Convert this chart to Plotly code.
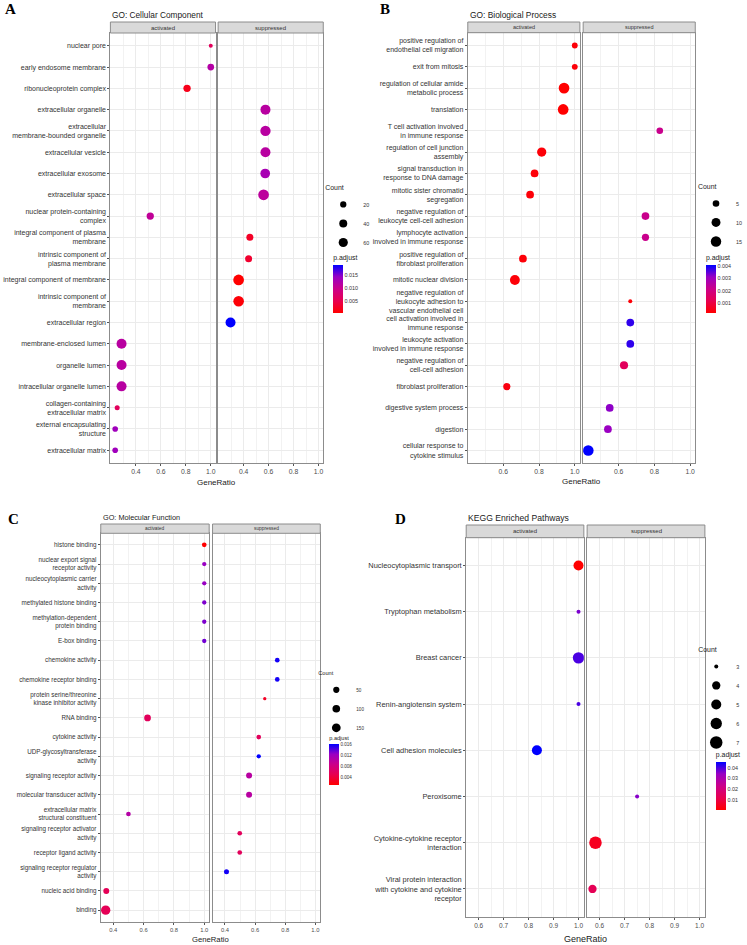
import plotly.graph_objects as go

W, H = 747, 945

# ---------------- A: GO Cellular Component
cc_terms = ["nuclear pore", "early endosome membrane", "ribonucleoprotein complex",
            "extracellular organelle", "extracellular\nmembrane-bounded organelle",
            "extracellular vesicle", "extracellular exosome", "extracellular space",
            "nuclear protein-containing\ncomplex", "integral component of plasma\nmembrane",
            "intrinsic component of\nplasma membrane", "integral component of membrane",
            "intrinsic component of\nmembrane", "extracellular region",
            "membrane-enclosed lumen", "organelle lumen", "intracellular organelle lumen",
            "collagen-containing\nextracellular matrix", "external encapsulating\nstructure",
            "extracellular matrix"]
cc_group = ["activated", "activated", "activated", "suppressed", "suppressed", "suppressed",
            "suppressed", "suppressed", "activated", "suppressed", "suppressed", "suppressed",
            "suppressed", "suppressed", "activated", "activated", "activated", "activated",
            "activated", "activated"]
cc_ratio = [1.0, 1.0, 0.81, 0.575, 0.575, 0.575, 0.573, 0.56, 0.515, 0.45,
            0.44, 0.36, 0.36, 0.295, 0.285, 0.285, 0.285, 0.25, 0.234, 0.234]
cc_count = [10, 24, 31, 78, 85, 78, 72, 95, 31, 27, 27, 95, 92, 78, 78, 78, 78, 12, 15, 15]
cc_padj = [0.0061, 0.0119, 0.0021, 0.0115, 0.0115, 0.0115, 0.0130, 0.0112, 0.0108, 0.0028,
           0.0033, 0.0006, 0.0010, 0.0188, 0.0115, 0.0115, 0.0116, 0.0062, 0.0137, 0.0137]

# ---------------- B: GO Biological Process
bp_terms = ["positive regulation of\nendothelial cell migration", "exit from mitosis",
            "regulation of cellular amide\nmetabolic process", "translation",
            "T cell activation involved\nin immune response", "regulation of cell junction\nassembly",
            "signal transduction in\nresponse to DNA damage", "mitotic sister chromatid\nsegregation",
            "negative regulation of\nleukocyte cell-cell adhesion",
            "lymphocyte activation\ninvolved in immune response",
            "positive regulation of\nfibroblast proliferation", "mitotic nuclear division",
            "negative regulation of\nleukocyte adhesion to\nvascular endothelial cell",
            "cell activation involved in\nimmune response",
            "leukocyte activation\ninvolved in immune response",
            "negative regulation of\ncell-cell adhesion", "fibroblast proliferation",
            "digestive system process", "digestion", "cellular response to\ncytokine stimulus"]
bp_group = ["activated", "activated", "activated", "activated", "suppressed", "activated",
            "activated", "activated", "suppressed", "suppressed", "activated", "activated",
            "suppressed", "suppressed", "suppressed", "suppressed", "activated", "suppressed",
            "suppressed", "suppressed"]
bp_ratio = [1.0, 1.0, 0.94, 0.935, 0.83, 0.815, 0.775, 0.75, 0.75, 0.75,
            0.71, 0.665, 0.665, 0.665, 0.665, 0.63, 0.62, 0.55, 0.54, 0.43]
bp_count = [4, 4, 16, 16, 5, 11, 7, 7, 7, 6, 7, 13, 3, 7, 7, 8, 6, 7, 7, 16]
bp_padj = [0.0003, 0.0003, 0.0002, 0.0002, 0.0022, 0.0003, 0.0003, 0.0003, 0.0022, 0.0022,
           0.0003, 0.0003, 0.0003, 0.0038, 0.0038, 0.0014, 0.0004, 0.0032, 0.0031, 0.0041]

# ---------------- C: GO Molecular Function
mf_terms = ["histone binding", "nuclear export signal\nreceptor activity",
            "nucleocytoplasmic carrier\nactivity", "methylated histone binding",
            "methylation-dependent\nprotein binding", "E-box binding", "chemokine activity",
            "chemokine receptor binding", "protein serine/threonine\nkinase inhibitor activity",
            "RNA binding", "cytokine activity", "UDP-glycosyltransferase\nactivity",
            "signaling receptor activity", "molecular transducer activity",
            "extracellular matrix\nstructural constituent", "signaling receptor activator\nactivity",
            "receptor ligand activity", "signaling receptor regulator\nactivity",
            "nucleic acid binding", "binding"]
mf_group = ["activated", "activated", "activated", "activated", "activated", "activated",
            "suppressed", "suppressed", "suppressed", "activated", "suppressed", "suppressed",
            "suppressed", "suppressed", "activated", "suppressed", "suppressed", "suppressed",
            "activated", "activated"]
mf_ratio = [1.0, 1.0, 1.0, 1.0, 1.0, 1.0, 0.747, 0.747, 0.664, 0.626,
            0.624, 0.624, 0.56, 0.56, 0.50, 0.498, 0.498, 0.41, 0.354, 0.35]
mf_count = [19, 15, 15, 15, 15, 15, 19, 19, 10, 65, 19, 15, 44, 44, 19, 19, 19, 24, 44, 180]
mf_padj = [0.0010, 0.0125, 0.0125, 0.0132, 0.0132, 0.0135, 0.0158, 0.0158, 0.0028, 0.0056,
           0.0056, 0.0163, 0.0102, 0.0102, 0.0105, 0.0056, 0.0056, 0.0158, 0.0053, 0.0053]

# ---------------- D: KEGG
kegg_terms = ["Nucleocytoplasmic transport", "Tryptophan metabolism", "Breast cancer",
              "Renin-angiotensin system", "Cell adhesion molecules", "Peroxisome",
              "Cytokine-cytokine receptor\ninteraction",
              "Viral protein interaction\nwith cytokine and cytokine\nreceptor"]
kegg_group = ["activated", "activated", "activated", "activated", "activated",
              "suppressed", "suppressed", "suppressed"]
kegg_ratio = [1.0, 1.0, 1.0, 1.0, 0.8333, 0.75, 0.5833, 0.5714]
kegg_count = [5, 3, 6, 3, 5, 3, 7, 4]
kegg_padj = [0.0005, 0.0365, 0.0401, 0.0401, 0.0455, 0.0356, 0.0050, 0.0130]

RB = [[0.0, "#FF0000"], [0.25, "#E8004F"], [0.5, "#CC0089"], [0.75, "#9A00C3"], [1.0, "#0000FF"]]
SANS = "Liberation Sans, Arial, sans-serif"
SERIF = "Liberation Serif, Times New Roman, serif"
GRID = "#EBEBEB"
BORDER = "#8C8C8C"


def px(x):
    return x / W


def py(y):
    return 1 - y / H


def dot_size(counts, dmin, dmax, lo, hi):
    return [dmin + (dmax - dmin) * ((c - lo) / (hi - lo)) ** 0.5 for c in counts]


panels = [
    dict(terms=cc_terms, group=cc_group, ratio=cc_ratio, count=cc_count, padj=cc_padj,
         title="GO: Cellular Component", letter="A", breaks=[20, 40, 60],
         cticks=[0.005, 0.010, 0.015], cfmt="{:.3f}",
         major=[0.4, 0.6, 0.8, 1.0], minor=[0.3, 0.5, 0.7, 0.9],
         act=(111, 216.7), sup=(219.3, 325), top=33, bottom=463, strip=11,
         title_xy=(111, 15), letter_xy=(3, 9), xlab_y=483, leg_xy=(325, 181),
         cbar=(335, 252, 313), dsize=(4, 10.7),
         fs=dict(y=7, x=6.8, title=8.3, strip=6, xlab=8, leg=5.4, legt=6.9)),
    dict(terms=bp_terms, group=bp_group, ratio=bp_ratio, count=bp_count, padj=bp_padj,
         title="GO: Biological Process", letter="B", breaks=[5, 10, 15],
         cticks=[0.001, 0.002, 0.003, 0.004], cfmt="{:.3f}",
         major=[0.6, 0.8, 1.0], minor=[0.5, 0.7, 0.9],
         act=(470.3, 583), sup=(586.3, 699), top=32.7, bottom=463.3, strip=10.7,
         title_xy=(470.3, 15), letter_xy=(380, 9), xlab_y=481, leg_xy=(700, 180),
         cbar=(709.7, 252, 313), dsize=(4, 10.7),
         fs=dict(y=7.0, x=6.8, title=8.4, strip=5.5, xlab=8, leg=5.4, legt=6.9)),
    dict(terms=mf_terms, group=mf_group, ratio=mf_ratio, count=mf_count, padj=mf_padj,
         title="GO: Molecular Function", letter="C", breaks=[50, 100, 150],
         cticks=[0.004, 0.008, 0.012, 0.016], cfmt="{:.3f}",
         major=[0.4, 0.6, 0.8, 1.0], minor=[0.5, 0.7, 0.9],
         act=(101.3, 210.3), sup=(213.7, 322), top=533.3, bottom=921.7, strip=9.3,
         title_xy=(102, 517.7), letter_xy=(6, 518.5), xlab_y=939.3, leg_xy=(318, 668),
         cbar=(331, 733, 785), dsize=(3.3, 9.3),
         fs=dict(y=6.3, x=5.8, title=7.3, strip=4.8, xlab=7.7, leg=4.6, legt=5.6)),
    dict(terms=kegg_terms, group=kegg_group, ratio=kegg_ratio, count=kegg_count, padj=kegg_padj,
         title="KEGG Enriched Pathways", letter="D", breaks=[3, 4, 5, 6, 7],
         cticks=[0.01, 0.02, 0.03, 0.04], cfmt="{:.2f}",
         major=[0.6, 0.7, 0.8, 0.9, 1.0], minor=[0.65, 0.75, 0.85, 0.95],
         act=(468.7, 587), sup=(590.3, 708.7), top=537.7, bottom=916.7, strip=12.7,
         title_xy=(468.7, 517.7), letter_xy=(395, 519), xlab_y=938.7, leg_xy=(700, 643),
         cbar=(719.7, 749, 810), dsize=(4, 12.5),
         fs=dict(y=7.45, x=6.5, title=8.6, strip=6, xlab=9, leg=5.4, legt=6.9)),
]

fig = go.Figure()
layout = dict(width=W, height=H, margin=dict(l=0, r=0, t=0, b=0),
              paper_bgcolor="white", plot_bgcolor="white", hovermode=False,
              font=dict(family=SANS, color="#1A1A1A"))
shapes, annotations = [], []

for k, p in enumerate(panels):
    fs = p["fs"]
    ca = "coloraxis" if k == 0 else f"coloraxis{k + 1}"
    leg = "legend" if k == 0 else f"legend{k + 1}"
    lo, hi = min(p["count"]), max(p["count"])
    sizes = dot_size(p["count"], p["dsize"][0], p["dsize"][1], lo, hi)
    labels = [t.replace("\n", "<br>") for t in p["terms"]]
    n = len(labels)
    rmin, rmax = min(p["ratio"]), max(p["ratio"])
    span = rmax - rmin
    xr = [rmin - 0.05 * span, rmax + 0.05 * span]
    ph = p["bottom"] - p["top"]

    for j, grp in enumerate(["activated", "suppressed"]):
        num = 2 * k + j + 1
        xid = "x" if num == 1 else f"x{num}"
        yid = "y" if num == 1 else f"y{num}"
        dom = p["act"] if j == 0 else p["sup"]
        idx = [i for i, g in enumerate(p["group"]) if g == grp]
        fig.add_trace(go.Scatter(
            x=[p["ratio"][i] for i in idx], y=[labels[i] for i in idx], mode="markers",
            marker=dict(size=[sizes[i] for i in idx], color=[p["padj"][i] for i in idx],
                        coloraxis=ca, line=dict(width=0), opacity=1),
            xaxis=xid, yaxis=yid, showlegend=False))

        layout["xaxis" if num == 1 else f"xaxis{num}"] = dict(
            domain=[px(dom[0]), px(dom[1])], anchor=yid, range=xr,
            tickvals=p["major"], ticktext=[f"{v:.1f}" for v in p["major"]],
            minor=dict(tickvals=p["minor"], showgrid=True, gridcolor="#F2F2F2", gridwidth=1, ticks=""),
            showgrid=True, gridcolor=GRID, gridwidth=1, zeroline=False,
            showline=True, mirror=True, linecolor=BORDER, linewidth=1,
            ticks="outside", ticklen=2, tickcolor="#555555",
            tickfont=dict(size=fs["x"], color="#4D4D4D"), fixedrange=True)
        layout["yaxis" if num == 1 else f"yaxis{num}"] = dict(
            domain=[py(p["bottom"]), py(p["top"])], anchor=xid, type="category",
            categoryorder="array", categoryarray=labels, range=[n - 0.4, -0.6],
            showgrid=True, gridcolor=GRID, gridwidth=1, zeroline=False,
            showline=True, mirror=True, linecolor=BORDER, linewidth=1,
            showticklabels=(j == 0), ticks="outside" if j == 0 else "",
            ticklen=2, tickcolor="#555555",
            tickfont=dict(size=fs["y"], color="#333333"), fixedrange=True)

        # facet strip
        shapes.append(dict(type="rect", xref=f"{xid} domain", yref=f"{yid} domain",
                           x0=0, x1=1, y0=1, y1=1 + p["strip"] / ph,
                           fillcolor="#D9D9D9", line=dict(color=BORDER, width=1)))
        annotations.append(dict(text=grp, xref=f"{xid} domain", yref=f"{yid} domain",
                                x=0.5, y=1 + p["strip"] / 2 / ph, showarrow=False,
                                xanchor="center", yanchor="middle",
                                font=dict(size=fs["strip"], color="#333333")))

    # count legend
    for b, d in zip(p["breaks"], dot_size(p["breaks"], p["dsize"][0], p["dsize"][1], lo, hi)):
        fig.add_trace(go.Scatter(x=[None], y=[None], mode="markers", name=str(b),
                                 marker=dict(size=d, color="black"), legend=leg,
                                 xaxis="x" if k == 0 else f"x{2 * k + 1}",
                                 yaxis="y" if k == 0 else f"y{2 * k + 1}"))
    layout[leg] = dict(x=px(p["leg_xy"][0]), y=py(p["leg_xy"][1]), xanchor="left", yanchor="top",
                       title=dict(text="Count", font=dict(size=fs["legt"], color="#1A1A1A")),
                       font=dict(size=fs["leg"], color="#333333"), bgcolor="rgba(0,0,0,0)",
                       borderwidth=0, itemsizing="trace", tracegroupgap=0)

    # p.adjust colour bar
    cx, ctop, cbot = p["cbar"]
    layout[ca] = dict(colorscale=RB, colorbar=dict(
        x=px(cx), xanchor="left", xpad=0, y=py(ctop), yanchor="top", ypad=0,
        len=cbot - ctop, lenmode="pixels", thickness=10, thicknessmode="pixels",
        outlinewidth=0, ticks="",
        title=dict(text="p.adjust", side="top", font=dict(size=fs["legt"], color="#1A1A1A")),
        tickvals=p["cticks"], ticktext=[p["cfmt"].format(v) for v in p["cticks"]],
        tickfont=dict(size=fs["leg"], color="#333333")))

    annotations.append(dict(text=p["title"], xref="paper", yref="paper",
                            x=px(p["title_xy"][0]), y=py(p["title_xy"][1]),
                            xanchor="left", yanchor="middle", showarrow=False,
                            font=dict(size=fs["title"], color="#1A1A1A")))
    annotations.append(dict(text=f"<b>{p['letter']}</b>", xref="paper", yref="paper",
                            x=px(p["letter_xy"][0]), y=py(p["letter_xy"][1]),
                            xanchor="left", yanchor="middle", showarrow=False,
                            font=dict(size=15, family=SERIF, color="black")))
    annotations.append(dict(text="GeneRatio", xref="paper", yref="paper",
                            x=px((p["act"][0] + p["sup"][1]) / 2), y=py(p["xlab_y"]),
                            xanchor="center", yanchor="middle", showarrow=False,
                            font=dict(size=fs["xlab"], color="#1A1A1A")))

layout["shapes"] = shapes
layout["annotations"] = annotations
fig.update_layout(**layout)
# the page body has an 8px default margin; drop it so the figure sits at the window origin
fig.write_html("out.html", config={"displayModeBar": False},
               post_script="document.body.style.margin = '0px';")
